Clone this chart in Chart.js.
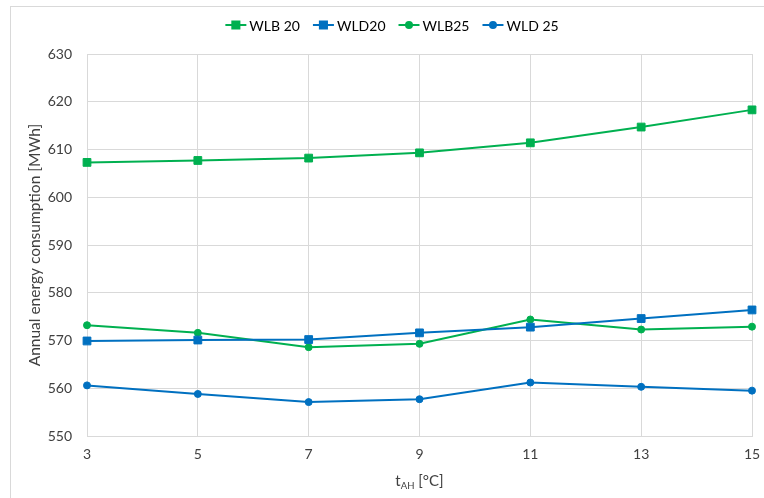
<!DOCTYPE html>
<html>
<head>
<meta charset="utf-8">
<script src="https://cdn.jsdelivr.net/npm/chart.js@4"></script>
<style>
  html, body { margin: 0; padding: 0; background: #fff; }
  #wrap { width: 764px; height: 498px; }
</style>
</head>
<body>
<div id="wrap"><canvas id="grafik" width="764" height="498"></canvas></div>
<script>
const categories = ['3', '5', '7', '9', '11', '13', '15'];
const wlb20 = [607.3, 607.7, 608.2, 609.3, 611.4, 614.7, 618.3];
const wld20 = [569.9, 570.1, 570.2, 571.6, 572.8, 574.6, 576.4];
const wlb25 = [573.2, 571.6, 568.6, 569.3, 574.4, 572.3, 572.9];
const wld25 = [560.6, 558.8, 557.1, 557.7, 561.2, 560.3, 559.5];
const yMin = 550, yMax = 630, yStep = 10;

const GREEN = '#00B050';
const BLUE = '#0070C0';
const FONT = 'Lato, "Open Sans", sans-serif';
const TEXT = '#404040';

const seriesList = [
  { label: 'WLB 20', data: wlb20, color: GREEN, style: 'rect', r: 5.5 },
  { label: 'WLD20', data: wld20, color: BLUE, style: 'rect', r: 5.5 },
  { label: 'WLB25', data: wlb25, color: GREEN, style: 'circle', r: 3.5 },
  { label: 'WLD 25', data: wld25, color: BLUE, style: 'circle', r: 3.5 },
];

// frame, legend and axis titles drawn by hand (Excel look)
const hiasan = {
  id: 'hiasan',
  afterDraw(chart) {
    const c = chart.ctx;
    const area = chart.chartArea;
    c.save();
    // outer frame
    c.strokeStyle = '#d9d9d9';
    c.lineWidth = 1;
    c.strokeRect(10.5, 6.5, 800, 600);

    // legend
    c.font = '14px ' + FONT;
    c.textBaseline = 'middle';
    const lineLen = 21, gapTxt = 3, gapItem = 13;
    const widths = seriesList.map(s => lineLen + gapTxt + c.measureText(s.label).width);
    const total = widths.reduce((a, b) => a + b, 0) + gapItem * (seriesList.length - 1);
    let x = 392 - total / 2;
    const y = 25;
    seriesList.forEach((s, i) => {
      c.strokeStyle = s.color;
      c.fillStyle = s.color;
      c.lineWidth = 2;
      c.beginPath();
      c.moveTo(x, y);
      c.lineTo(x + lineLen, y);
      c.stroke();
      Chart.helpers.drawPoint(c, { pointStyle: s.style, radius: s.r - 0.5, borderWidth: 1 }, x + lineLen / 2, y);
      c.fillStyle = '#000';
      c.textAlign = 'left';
      c.fillText(s.label, x + lineLen + gapTxt, y + 1);
      x += widths[i] + gapItem;
    });

    // y title
    c.fillStyle = TEXT;
    c.font = '15.5px ' + FONT;
    c.translate(35, (area.top + area.bottom) / 2);
    c.rotate(-Math.PI / 2);
    c.textAlign = 'center';
    c.fillText('Annual energy consumption [MWh]', 0, 0);
    c.setTransform(1, 0, 0, 1, 0, 0);

    // x title with subscript
    const cx = (area.left + area.right) / 2;
    const ty = 482;
    c.font = '15px ' + FONT;
    const wT = c.measureText('t').width;
    const wRest = c.measureText(' [°C]').width;
    c.font = '9.5px ' + FONT;
    const wSub = c.measureText('AH').width;
    let tx = cx - (wT + wSub + wRest) / 2;
    c.textAlign = 'left';
    c.textBaseline = 'alphabetic';
    c.font = '15px ' + FONT;
    c.fillText('t', tx, ty + 4);
    c.font = '9.5px ' + FONT;
    c.fillText('AH', tx + wT, ty + 7);
    c.font = '15px ' + FONT;
    c.fillText(' [°C]', tx + wT + wSub, ty + 4);
    c.restore();
  }
};

const ctx = document.getElementById('grafik').getContext('2d');

new Chart(ctx, {
  type: 'line',
  data: {
    labels: categories,
    datasets: seriesList.map(s => ({
      label: s.label,
      data: s.data,
      borderColor: s.color,
      backgroundColor: s.color,
      pointBackgroundColor: s.color,
      pointBorderColor: s.color,
      pointStyle: s.style,
      pointRadius: s.r,
      pointBorderWidth: 1,
      borderWidth: 2,
      tension: 0,
      fill: false,
    }))
  },
  options: {
    responsive: false,
    animation: false,
    layout: { padding: { top: 54, left: 10, right: 12, bottom: 0 } },
    scales: {
      x: {
        offset: false,
        grid: { color: '#d9d9d9', drawTicks: false },
        border: { color: '#d9d9d9' },
        ticks: { color: TEXT, font: { family: FONT, size: 14 }, padding: 10, maxRotation: 0 },
        afterFit(scale) {
          scale.height = 62;
          scale.paddingLeft = 0;
          scale.paddingRight = 0;
        }
      },
      y: {
        min: yMin,
        max: yMax,
        grid: { color: '#d9d9d9', drawTicks: false },
        border: { color: '#d9d9d9' },
        ticks: { stepSize: yStep, color: TEXT, font: { family: FONT, size: 14 }, padding: 15 },
        afterFit(scale) {
          scale.width = 77;
          scale.paddingTop = 0;
          scale.paddingBottom = 0;
        }
      }
    },
    plugins: {
      legend: { display: false },
      tooltip: { enabled: false }
    }
  },
  plugins: [hiasan]
});
</script>
</body>
</html>
